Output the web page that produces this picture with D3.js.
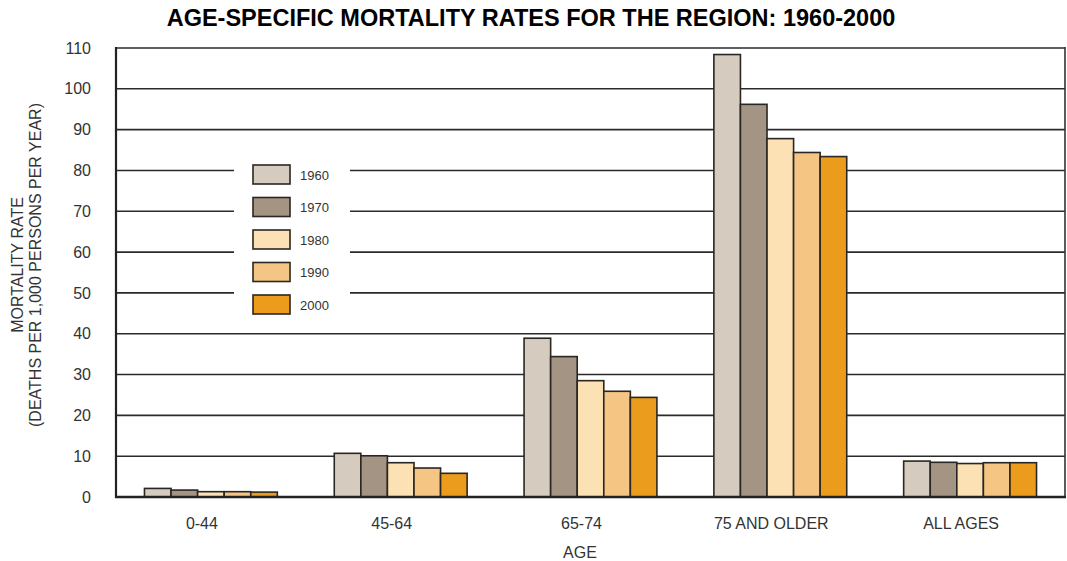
<!DOCTYPE html>
<html>
<head>
<meta charset="utf-8">
<script src="https://cdn.jsdelivr.net/npm/d3@7"></script>
<style>
  body { margin: 0; background: #fff; }
  svg { display: block; font-family: "Liberation Sans", Arial, sans-serif; }
</style>
</head>
<body>
<svg id="chart" width="1067" height="561"></svg>
<script>
const categories = ["0-44", "45-64", "65-74", "75 AND OLDER", "ALL AGES"];
const years = ["1960", "1970", "1980", "1990", "2000"];
const v1960 = [2.1, 10.7, 38.9, 108.4, 8.8];
const v1970 = [1.7, 10.1, 34.4, 96.2, 8.5];
const v1980 = [1.3, 8.4, 28.5, 87.8, 8.2];
const v1990 = [1.3, 7.1, 25.9, 84.4, 8.4];
const v2000 = [1.2, 5.8, 24.4, 83.4, 8.4];
const seriesValues = [v1960, v1970, v1980, v1990, v2000];
const yTicks = [0, 10, 20, 30, 40, 50, 60, 70, 80, 90, 100, 110];
const colors = ["#d6cbbf", "#a39483", "#fbe1b4", "#f5c683", "#ec9c1c"];

const svg = d3.select("#chart");
const mLeft = 116, mRight = 1065, mTop = 48, mBottom = 497;

const x = d3.scaleBand().domain(categories).range([mLeft, mRight]).paddingInner(0.3).paddingOuter(0.15);
const xi = d3.scaleBand().domain(years).range([0, x.bandwidth()]);
const y = d3.scaleLinear().domain([0, 110]).range([mBottom, mTop]);

// title
svg.append("text").attr("x", 531).attr("y", 26).attr("text-anchor", "middle")
  .attr("font-size", 23.5).attr("font-weight", "bold").attr("fill", "#000")
  .text("AGE-SPECIFIC MORTALITY RATES FOR THE REGION: 1960-2000");

// gridlines
svg.append("g").selectAll("line").data(yTicks.filter(d => d > 0)).join("line")
  .attr("x1", mLeft).attr("x2", mRight).attr("y1", d => y(d)).attr("y2", d => y(d))
  .attr("stroke", "#2b2b2b").attr("stroke-width", 1.6);

// legend background (interrupts gridlines)
svg.append("rect").attr("x", 234).attr("y", 152).attr("width", 116).attr("height", 163).attr("fill", "#fff");

// y axis tick labels
const yAxis = d3.axisLeft(y).tickValues(yTicks).tickSize(0).tickPadding(0);
const gy = svg.append("g").attr("transform", `translate(${mLeft - 25},0)`).call(yAxis);
gy.select(".domain").remove();
gy.selectAll("text").attr("font-size", 16).attr("fill", "#333").attr("font-family", "Liberation Sans, Arial, sans-serif");

// bars
const groups = svg.append("g").selectAll("g").data(categories).join("g")
  .attr("transform", d => `translate(${x(d)},0)`);
groups.selectAll("rect").data((c, ci) => years.map((yr, si) => ({ yr, si, v: seriesValues[si][ci] })))
  .join("rect")
  .attr("x", d => xi(d.yr)).attr("width", xi.bandwidth())
  .attr("y", d => y(d.v)).attr("height", d => mBottom - y(d.v))
  .attr("fill", d => colors[d.si]).attr("stroke", "#2a2622").attr("stroke-width", 1.6);

// axes lines
svg.append("line").attr("x1", mLeft).attr("x2", mLeft).attr("y1", mTop - 1).attr("y2", mBottom + 1)
  .attr("stroke", "#222").attr("stroke-width", 2.2);
svg.append("line").attr("x1", mRight).attr("x2", mRight).attr("y1", mTop - 1).attr("y2", mBottom + 1)
  .attr("stroke", "#333").attr("stroke-width", 1.6);
svg.append("line").attr("x1", mLeft - 1).attr("x2", mRight + 1).attr("y1", mBottom).attr("y2", mBottom)
  .attr("stroke", "#222").attr("stroke-width", 2.4);

// x axis labels
const xAxis = d3.axisBottom(x).tickSize(0).tickPadding(0);
const gx = svg.append("g").attr("transform", `translate(-9,${mBottom + 21})`).call(xAxis);
gx.select(".domain").remove();
gx.selectAll("text").attr("font-size", 16).attr("fill", "#333").attr("font-family", "Liberation Sans, Arial, sans-serif");

svg.append("text").attr("x", 580).attr("y", 558).attr("text-anchor", "middle")
  .attr("font-size", 16).attr("fill", "#333").text("AGE");

// y axis title
const yt = svg.append("text").attr("transform", "translate(23,265) rotate(-90)")
  .attr("text-anchor", "middle").attr("font-size", 16).attr("fill", "#333");
yt.append("tspan").attr("x", 0).attr("dy", 0).text("MORTALITY RATE");
yt.append("tspan").attr("x", 0).attr("dy", 18).text("(DEATHS PER 1,000 PERSONS PER YEAR)");

// legend
const lg = svg.append("g").selectAll("g").data(years).join("g")
  .attr("transform", (d, i) => `translate(253,${165 + i * 32.5})`);
lg.append("rect").attr("width", 37).attr("height", 19)
  .attr("fill", (d, i) => colors[i]).attr("stroke", "#2a2622").attr("stroke-width", 1.6);
lg.append("text").attr("x", 47).attr("y", 14.5).attr("font-size", 13).attr("fill", "#333").text(d => d);
</script>
</body>
</html>
